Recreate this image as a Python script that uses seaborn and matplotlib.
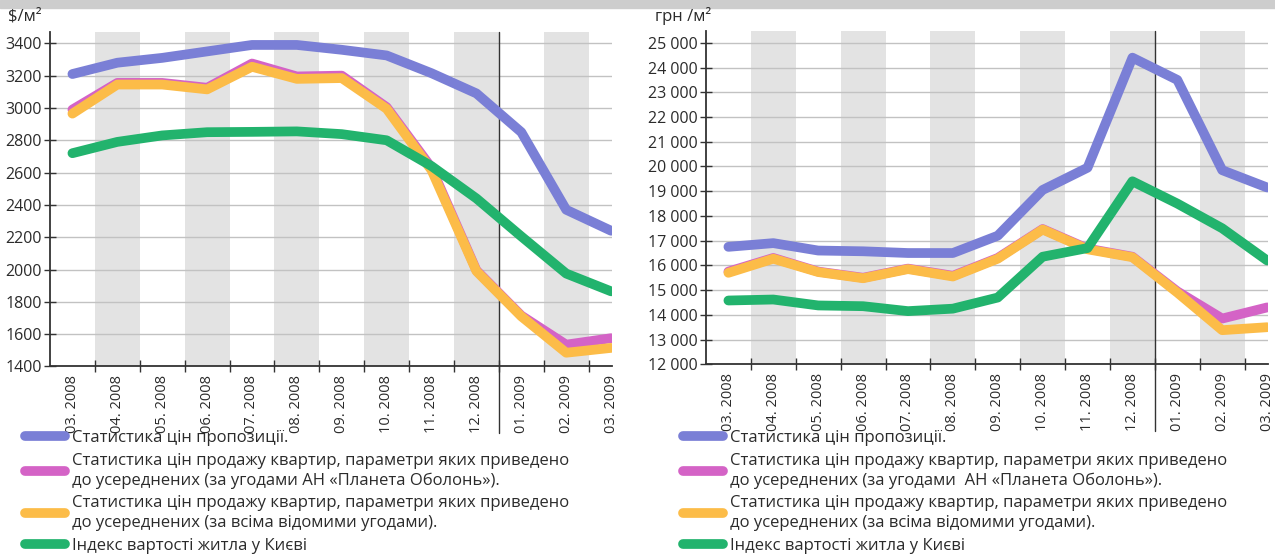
import numpy as np
import pandas as pd
import matplotlib.pyplot as plt
import seaborn as sns
from matplotlib.ticker import FuncFormatter
from matplotlib.patches import Rectangle

# Month labels on both charts
months = ["03. 2008", "04. 2008", "05. 2008", "06. 2008", "07. 2008", "08. 2008",
          "09. 2008", "10. 2008", "11. 2008", "12. 2008", "01. 2009", "02. 2009",
          "03. 2009"]

# Left chart, $/m2
usd_offer = [3210, 3280, 3310, 3350, 3390, 3390, 3360, 3325, 3215, 3090, 2850, 2370, 2240]
usd_obolon = [2990, 3155, 3155, 3125, 3275, 3195, 3200, 3005, 2630, 1995, 1715, 1535, 1575]
usd_all = [2965, 3145, 3145, 3115, 3255, 3180, 3185, 2995, 2615, 1990, 1710, 1485, 1515]
usd_index = [2720, 2790, 2830, 2850, 2852, 2855, 2838, 2800, 2640, 2440, 2205, 1975, 1865]
usd_yticks = [1400, 1600, 1800, 2000, 2200, 2400, 2600, 2800, 3000, 3200, 3400]

# Right chart, UAH/m2
uah_offer = [16750, 16900, 16600, 16570, 16500, 16500, 17200, 19050, 19950, 24400, 23500, 19850, 19150]
uah_obolon = [15750, 16300, 15750, 15500, 15870, 15580, 16300, 17470, 16680, 16350, 14950, 13850, 14300]
uah_all = [15700, 16270, 15730, 15480, 15850, 15550, 16270, 17450, 16650, 16330, 14900, 13380, 13500]
uah_index = [14580, 14620, 14380, 14350, 14150, 14250, 14700, 16350, 16700, 19400, 18500, 17500, 16200]
uah_yticks = list(range(12000, 25001, 1000))

series_names = [
    "Статистика цін пропозиції.",
    "Статистика цін продажу квартир, параметри яких приведено\nдо усереднених (за угодами АН «Планета Оболонь»).",
    "Статистика цін продажу квартир, параметри яких приведено\nдо усереднених (за всіма відомими угодами).",
    "Індекс вартості житла у Києві",
]
series_names_uah = [
    series_names[0],
    "Статистика цін продажу квартир, параметри яких приведено\nдо усереднених (за угодами  АН «Планета Оболонь»).",
    series_names[2],
    series_names[3],
]
colors = ["#7a7fd6", "#d463c6", "#fcbc48", "#22b36d"]

sns.set_theme(style="white")
plt.rcParams["font.family"] = ["Open Sans", "DejaVu Sans"]
text_color = "#2b2b2b"
axis_color = "#333333"
band_color = "#e3e3e3"
grid_color = "#c2c2c2"

fig = plt.figure(figsize=(12.75, 5.54), dpi=100)
ax_usd = fig.add_axes([0.0392, 0.3385, 0.4408, 0.6037])
ax_uah = fig.add_axes([0.5537, 0.3424, 0.4408, 0.6022])

# faint header strip at the very top
fig.patches.append(Rectangle((0, 1 - 8 / 554), 1, 8 / 554, transform=fig.transFigure,
                             color="#cdcdcd", zorder=0))


def draw_panel(ax, values, names, yticks, ylim, fmt):
    df = pd.DataFrame({"idx": np.arange(len(months))})
    for name, vals in zip(names, values):
        df[name] = vals
    long = df.melt(id_vars="idx", var_name="series", value_name="value")

    # alternating gray month bands
    for i in range(1, len(months), 2):
        ax.axvspan(i - 0.5, i + 0.5, color=band_color, lw=0, zorder=0)

    sns.lineplot(data=long, x="idx", y="value", hue="series", hue_order=names,
                 palette=dict(zip(names, colors)), linewidth=7, legend=False,
                 sort=False, ax=ax, solid_capstyle="round", solid_joinstyle="round")

    # year divider
    ax.axvline(9.5, ymin=-0.2, ymax=1, color=axis_color, lw=1, clip_on=False, zorder=1.5)

    ax.set_xlim(-0.5, 12.02)
    ax.set_ylim(*ylim)
    ax.set_xticks(range(len(months)))
    ax.set_xticklabels(months, rotation=90)
    ax.set_xticks(np.arange(0.5, 12, 1), minor=True)
    ax.set_yticks(yticks)
    ax.yaxis.set_major_formatter(FuncFormatter(fmt))
    ax.tick_params(axis="x", which="major", length=0, pad=6, labelsize=10.5,
                   labelcolor=text_color)
    ax.tick_params(axis="x", which="minor", direction="inout", length=8, width=1,
                   color=axis_color, bottom=True)
    ax.tick_params(axis="y", direction="inout", length=8, width=1, pad=2,
                   labelsize=11.5, color=axis_color, labelcolor=text_color, left=True)
    ax.set_xlabel("")
    ax.set_ylabel("")
    ax.grid(axis="y", color=grid_color, lw=1)
    ax.set_axisbelow(True)
    sns.despine(ax=ax)
    for side in ["left", "bottom"]:
        ax.spines[side].set_color(axis_color)
        ax.spines[side].set_linewidth(1.3)
    return ax.lines[:4]


h_usd = draw_panel(ax_usd, [usd_offer, usd_obolon, usd_all, usd_index], series_names,
                   usd_yticks, (1400, 3470), lambda v, p: f"{v:.0f}")
h_uah = draw_panel(ax_uah, [uah_offer, uah_obolon, uah_all, uah_index], series_names_uah,
                   uah_yticks, (12000, 25490), lambda v, p: f"{v:,.0f}".replace(",", " "))

fig.text(8 / 1275, 1 - 16 / 554, "\\$/м²", fontsize=12, va="center", color=text_color)
fig.text(655 / 1275, 1 - 16 / 554, "грн /м²", fontsize=12, va="center", color=text_color)

legend_kw = dict(loc="upper left", frameon=False, fontsize=12, handlelength=2.4,
                 handletextpad=0.45, labelspacing=0.4, borderpad=0, borderaxespad=0,
                 labelcolor=text_color)
for handles, names, x0 in [(h_usd, series_names, 25), (h_uah, series_names_uah, 683)]:
    leg = fig.legend(handles, names, bbox_to_anchor=(x0 / 1275, 1 - 430 / 554), **legend_kw)
    for t in leg.get_texts():
        t.set_linespacing(1.3)

fig.savefig("out.png", dpi=100)
